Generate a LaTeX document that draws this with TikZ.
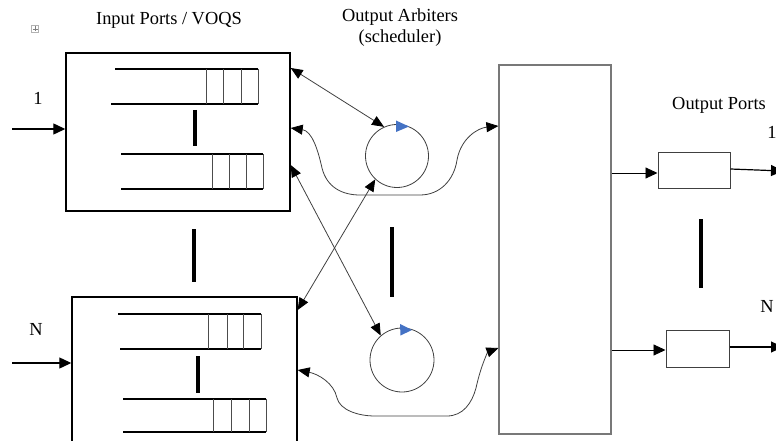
\documentclass[tikz,border=0pt]{standalone}
\usepackage{fontspec}
\setmainfont{Liberation Serif}
\usetikzlibrary{arrows.meta,calc}
\definecolor{arrowblue}{RGB}{68,114,196}
\definecolor{linegray}{RGB}{64,64,64}
\definecolor{boxgray}{RGB}{120,120,120}
\newcommand\voqueue[8]{%
  \draw[qline] (#1,#7) -- (#6,#7) (#2,#8) -- (#6,#8);
  \draw[qcell] (#3,#7) -- (#3,#8) (#4,#7) -- (#4,#8) (#5,#7) -- (#5,#8) (#6,#7) -- (#6,#8);}
\begin{document}
\begin{tikzpicture}[x=1pt,y=-1pt,
  lbl/.style={font=\fontsize{18.4}{21}\selectfont, inner sep=0pt, anchor=base},
  inbox/.style={draw=black, line width=1.4pt, inner sep=0pt},
  swbox/.style={draw=boxgray, line width=1.2pt, inner sep=0pt},
  outbox/.style={draw=black!75, line width=1pt, inner sep=0pt},
  arb/.style={circle, draw=linegray, line width=0.8pt, inner sep=0pt},
  qline/.style={draw=black, line width=1.3pt},
  qcell/.style={draw=black!70, line width=0.7pt},
  bar/.style={draw=black, line width=4pt},
  arr/.tip={Triangle[length=12pt,width=10pt,color=black]},
  bigarr/.tip={Triangle[length=12pt,width=11pt,color=black]},
  conn/.style={draw=linegray, line width=0.8pt},
  thickconn/.style={draw=black, line width=1.2pt, -bigarr}]
\useasboundingbox (0,0) rectangle (776,441);
\clip (0,0) rectangle (776,441);

% boxes
\node[inbox, minimum width=224pt, minimum height=158pt] (inA) at (178,132) {};
\node[inbox, minimum width=225pt, minimum height=163pt] (inB) at (184.5,378.5) {};
\node[swbox, minimum width=112pt, minimum height=369pt] (switch) at (555,249.5) {};
\node[outbox, minimum width=72pt, minimum height=36pt] (outA) at (694,170) {};
\node[outbox, minimum width=63pt, minimum height=37pt] (outB) at (697.5,348.5) {};
\node[arb, minimum size=63pt] (arbA) at (397,156) {};
\node[arb, minimum size=64pt] (arbB) at (402,360) {};

% queues
\voqueue{115}{111}{206}{223}{241}{258}{69}{104}
\voqueue{121}{121}{212}{229}{246}{263}{154}{189}
\voqueue{118}{120}{208}{227}{243}{261}{314}{349}
\voqueue{123}{123}{213}{231}{249}{266}{399}{432}

% bars
\draw[bar] (195,110) -- (195,146);
\draw[bar] (198,356) -- (198,393);
\draw[bar, line width=4.5pt] (194,229) -- (194,282);
\draw[bar] (392,227) -- (392,297);
\draw[bar] (701,219) -- (701,288);

% blue arrowheads on arbiters
\fill[arrowblue] (396,120.5) -- (409,126.5) -- (396,132) -- cycle;
\fill[arrowblue] (400,324) -- (412,330) -- (400.5,335.5) -- cycle;

% free ends
\coordinate (in1) at (12,129);
\coordinate (inN) at (12,363);
\coordinate (out1) at (783,171);
\coordinate (outN) at (783,347);
\coordinate (oa) at ([yshift=-3pt]outA.west);
\coordinate (ob) at ([yshift=-1.5pt]outB.west);

% input arrows
\draw[thickconn] (in1) -- (in1 -| inA.west);
\draw[thickconn] (inN) -- (inN -| inB.west);

% arbiter connectors
\draw[conn, arr-arr] ([yshift=64pt]inA.east) -- (arbA.114);
\draw[conn, arr-arr] ([yshift=-33pt]inA.east) -- (arbB.131);
\draw[conn, arr-arr] ([yshift=68.5pt]inB.east) -- (arbA.227);
\draw[conn, arr-arr] ([yshift=4pt]inA.east)
  .. controls (312,131) and (318,150) .. (322,168)
  .. controls (327,188) and (343,195) .. (360,195) -- (420,195)
  .. controls (440,195) and (454,180) .. (457,160)
  .. controls (461,138) and (478,128) .. ([yshift=123.5pt]switch.west);
\draw[conn, arr-arr] ([yshift=8.5pt]inB.east)
  .. controls (318,374) and (334,383) .. (337,398)
  .. controls (340,410) and (358,416) .. (375,416) -- (447,416)
  .. controls (463,416) and (472,403) .. (476,388)
  .. controls (481,365) and (488,352) .. ([yshift=-98.5pt]switch.west);

% output connectors
\draw[draw=black, line width=0.9pt, -bigarr] (oa -| switch.east) -- (oa);
\draw[draw=black, line width=0.9pt, -bigarr] (ob -| switch.east) -- (ob);
\draw[thickconn] ([yshift=1pt]outA.east) -- (out1);
\draw[thickconn] ([yshift=1.5pt]outB.east) -- (outN);

% labels
\node[lbl] (tIn) at (169,25) {Input Ports / VOQS};
\node[lbl] (tArb) at (400,22) {Output Arbiters};
\node[lbl] (tSch) at (400,43) {(scheduler)};
\node[lbl] (tOut) at (719,110) {Output Ports};
\node[lbl] (l1) at (38,105) {1};
\node[lbl] (lN) at (36,335) {N};
\node[lbl] (r1) at (772,139) {1};
\node[lbl] (rN) at (767,312) {N};

% anchor icon
\draw[gray!60, line width=0.4pt] (31.5,25.5) rectangle (38.5,32.5);
\draw[gray, line width=0.6pt] (35,26.5) -- (35,31.5) (32.5,29) -- (37.5,29);
\end{tikzpicture}
\end{document}
